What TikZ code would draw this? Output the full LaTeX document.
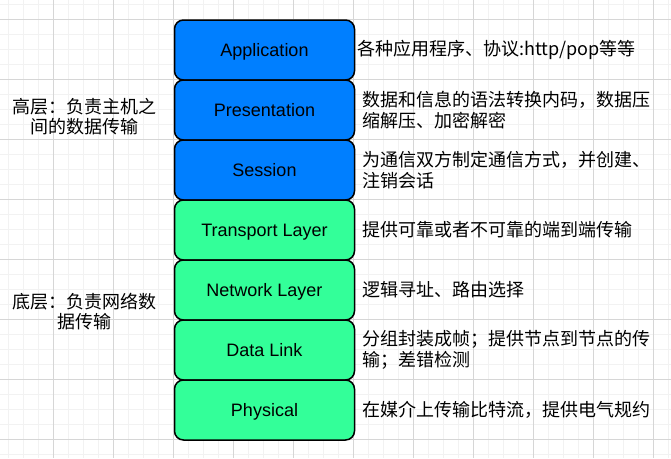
\documentclass[tikz,border=0pt]{standalone}
\usepackage{fontspec}
\setmainfont{Liberation Sans}
\newfontfamily\cjk{Noto Sans CJK SC}
\definecolor{layerblue}{HTML}{007FFF}
\definecolor{layergreen}{HTML}{33FF99}
\definecolor{gridmajor}{HTML}{D6D6D6}
\definecolor{gridminor}{HTML}{F2F2F2}
\tikzset{
  layerbox/.style={draw=black, line width=1.5pt, rounded corners=9pt,
    minimum width=180pt, minimum height=60pt, inner sep=0pt,
    text height=16pt, text depth=3pt,
    font=\fontsize{18}{21.5}\selectfont},
  upper/.style={layerbox, fill=layerblue},
  lower/.style={layerbox, fill=layergreen},
  desc/.style={anchor=west, inner sep=0pt, align=left,
    font=\cjk\fontsize{18}{21.5}\selectfont},
  side/.style={inner sep=0pt, align=center,
    font=\cjk\fontsize{18}{20.5}\selectfont},
  minorline/.style={draw=gridminor, line width=0.9pt},
  majorline/.style={draw=gridmajor, line width=0.9pt}
}
\begin{document}
\begin{tikzpicture}[x=1pt,y=-1pt]
\useasboundingbox (0,0) rectangle (671,458);
\fill[white] (0,0) rectangle (671,458);
% grid
\foreach \k in {0,...,44} \draw[minorline] ({8.33+15*\k},0) -- ({8.33+15*\k},458);
\foreach \k in {0,...,30} \draw[minorline] (0,{4.33+15*\k}) -- (671,{4.33+15*\k});
\foreach \k in {0,...,10} \draw[majorline] ({53.33+60*\k},0) -- ({53.33+60*\k},458);
\foreach \k in {0,...,7} \draw[majorline] (0,{19.33+60*\k}) -- (671,{19.33+60*\k});
% layers
\node[upper] (app) at (264.5,50) {Application};
\node[upper] (pres) at (264.5,110) {Presentation};
\node[upper] (sess) at (264.5,170) {Session};
\node[lower] (trans) at (264.5,230) {Transport Layer};
\node[lower] (net) at (264.5,290) {Network Layer};
\node[lower] (dl) at (264.5,350) {Data Link};
\node[lower] (phy) at (264.5,410) {Physical};
% descriptions
\node[desc] (d1) at (357,50) {各种应用程序、协议:http/pop等等};
\node[desc] (d2) at (362,110) {数据和信息的语法转换内码，数据压\\缩解压、加密解密};
\node[desc] (d3) at (362,170) {为通信双方制定通信方式，并创建、\\注销会话};
\node[desc] (d4) at (362,230) {提供可靠或者不可靠的端到端传输};
\node[desc] (d5) at (362,290) {逻辑寻址、路由选择};
\node[desc] (d6) at (362,350) {分组封装成帧；提供节点到节点的传\\输；差错检测};
\node[desc] (d7) at (362,410) {在媒介上传输比特流，提供电气规约};
% side labels
\node[side] (hi) at (84.5,116.5) {高层：负责主机之\\间的数据传输};
\node[side] (lo) at (84.5,311.5) {底层：负责网络数\\据传输};
\end{tikzpicture}
\end{document}
